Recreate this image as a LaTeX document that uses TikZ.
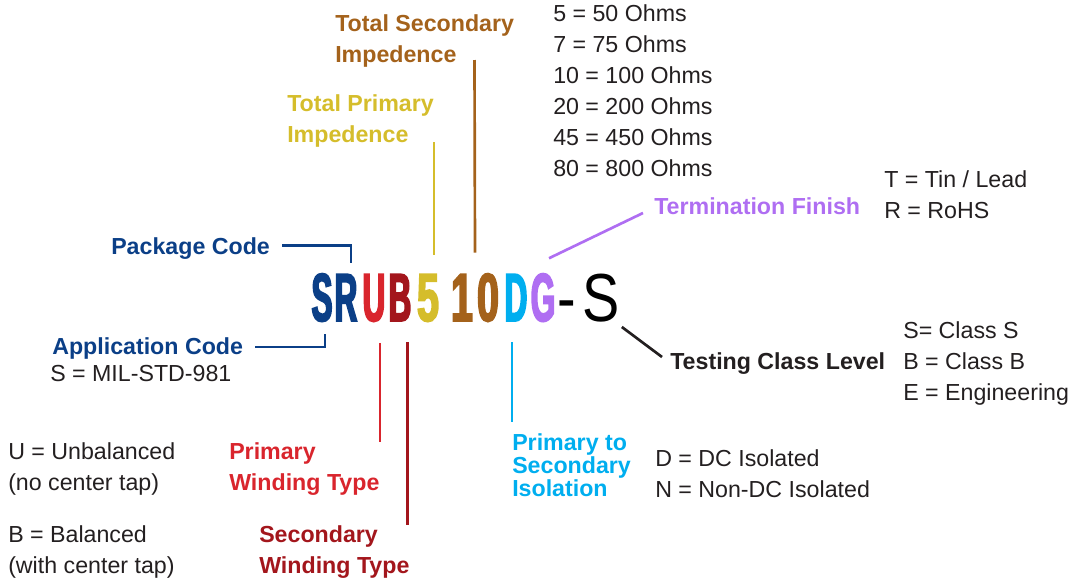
\documentclass[tikz,border=0pt]{standalone}
\usepackage{fontspec}
\setmainfont{Liberation Sans}
\newfontfamily\partFont[FakeStretch=0.46,FakeBold=2.5]{Liberation Sans}
\newfontfamily\digitFont[FakeStretch=0.58,FakeBold=2.5]{Liberation Sans}
\newfontfamily\suffixFont[FakeStretch=0.82]{Liberation Sans}
\usetikzlibrary{calc}
\definecolor{pnBlue}{HTML}{0B3F87}
\definecolor{pnRed}{HTML}{D9252D}
\definecolor{pnDarkRed}{HTML}{A3161C}
\definecolor{pnYellow}{HTML}{D5BD2B}
\definecolor{pnBrown}{HTML}{A4621B}
\definecolor{pnCyan}{HTML}{00AEEF}
\definecolor{pnPurple}{HTML}{AF6EF2}
\definecolor{bodyGray}{HTML}{231F20}
\newcommand{\labelSize}{\fontsize{17.4}{23.25}\selectfont}
\newcommand{\codeSize}{\fontsize{51}{51}\selectfont}

\begin{document}
\begin{tikzpicture}[x=0.75pt,y=-0.75pt]
\tikzstyle{codeChar}=[anchor=base,inner sep=0pt,font=\partFont\bfseries\codeSize]
\tikzstyle{codeDigit}=[codeChar,font=\digitFont\bfseries\codeSize]
\tikzstyle{fieldLabel}=[anchor=base west,inner sep=0pt,align=left,font=\bfseries\labelSize]
\tikzstyle{valueText}=[anchor=base west,inner sep=0pt,align=left,text=bodyGray,font=\labelSize]
\tikzstyle{leader}=[line width=2pt]
\useasboundingbox (0,0) rectangle (1075,582);
\foreach \ch/\col/\cx/\nm in {S/pnBlue/322/s,R/pnBlue/346/r,U/pnRed/374/u,B/pnDarkRed/400/b,D/pnCyan/516/d,G/pnPurple/543/g}
  \node[codeChar,text=\col] (ch-\nm) at (\cx,321) {\ch};
\foreach \ch/\col/\cx in {5/pnYellow/428,1/pnBrown/462,0/pnBrown/488}
  \node[codeDigit,text=\col] (ch-\ch) at (\cx,321) {\ch};
\node[codeChar,font=\suffixFont\codeSize] (ch-dash) at (567,321) {-};
\node[codeChar,font=\suffixFont\codeSize] (ch-t) at (601,321) {S};
\node[fieldLabel,text=pnBrown] (lbl-tse) at (335,62) {Total Secondary\\Impedence};
\node[fieldLabel,text=pnYellow] (lbl-tpi) at (287,142) {Total Primary\\Impedence};
\node[valueText] (val-ohm) at (553,176) {5 = 50 Ohms\\7 = 75 Ohms\\10 = 100 Ohms\\20 = 200 Ohms\\45 = 450 Ohms\\80 = 800 Ohms};
\node[fieldLabel,text=pnPurple] (lbl-term) at (654,214) {Termination Finish};
\node[valueText] (val-term) at (884,218) {T = Tin / Lead\\R = RoHS};
\node[fieldLabel,text=pnBlue] (lbl-pkg) at (111,254) {Package Code};
\node[fieldLabel,text=pnBlue] (lbl-app) at (52,354) {Application Code};
\node[valueText] (val-app) at (50,381) {S = MIL-STD-981};
\node[fieldLabel,text=bodyGray] (lbl-test) at (670,369) {Testing Class Level};
\node[valueText] (val-test) at (903,400) {S= Class S\\B = Class B\\E = Engineering};
\node[fieldLabel,text=pnRed] (lbl-pwt) at (229,490) {Primary\\Winding Type};
\node[fieldLabel,text=pnDarkRed] (lbl-swt) at (259,573) {Secondary\\Winding Type};
\node[valueText] (val-unb) at (8,490) {U = Unbalanced\\(no center tap)};
\node[valueText] (val-bal) at (8,573) {B = Balanced\\(with center tap)};
\node[fieldLabel,text=pnCyan,font=\bfseries\fontsize{17.4}{16}\selectfont] (lbl-iso) at (512,496) {Primary to\\Secondary\\Isolation};
\node[valueText] (val-iso) at (655,497) {D = DC Isolated\\N = Non-DC Isolated};
\coordinate (tse-end) at (474.5,60);
\coordinate (tpi-end) at (434,142);
\coordinate (pwt-end) at (380,442);
\coordinate (swt-end) at (407.5,525);
\coordinate (iso-end) at (512,422);
\draw[leader,pnBrown] ($(ch-1.north)!0.5!(ch-0.north)+(0,-21)$) -- (tse-end);
\draw[leader,pnYellow] ($(ch-5.north)+(6,-19)$) -- (tpi-end);
\draw[leader,pnBlue] ($(lbl-pkg.base east)+(12,-8.5)$) -| ($(ch-r.north)+(5,-11)$);
\draw[leader,pnBlue] ($(lbl-app.base east)+(12,-7)$) -| ($(ch-s.south)+(3,12)$);
\draw[leader,pnRed] ($(ch-u.south)+(6,21)$) -- (pwt-end);
\draw[leader,pnDarkRed] ($(ch-b.south)+(7.5,21)$) -- (swt-end);
\draw[leader,pnCyan] ($(ch-d.south)+(-4,21)$) -- (iso-end);
\draw[leader,pnPurple] ($(ch-g.north)+(6,-15)$) -- ($(lbl-term.base west)+(-11,-1)$);
\draw[leader,bodyGray] ($(ch-t.base east)+(2,6)$) -- ($(lbl-test.base west)+(-8,-12)$);
\end{tikzpicture}
\end{document}
